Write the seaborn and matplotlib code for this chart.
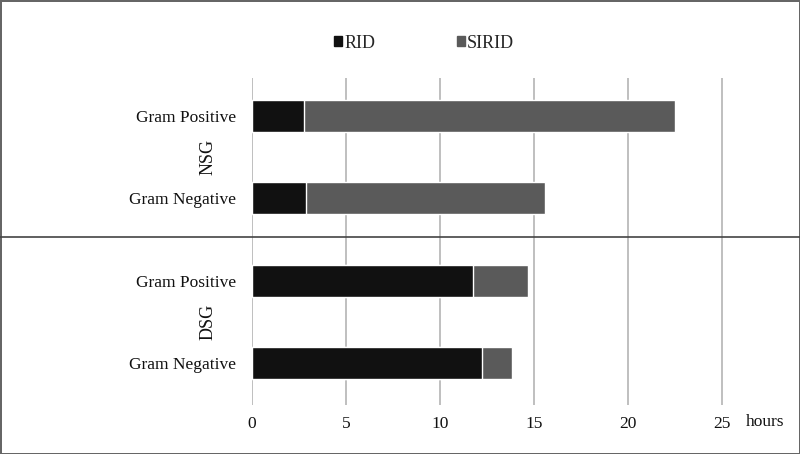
import matplotlib
matplotlib.use("Agg")
import matplotlib.pyplot as plt
import matplotlib.transforms as mtransforms
from matplotlib.lines import Line2D
from matplotlib.patches import Patch
import seaborn as sns
import pandas as pd

# data (hours)
groups = ["NSG", "NSG", "DSG", "DSG"]
strains = ["Gram Positive", "Gram Negative", "Gram Positive", "Gram Negative"]
rid = [2.80, 2.90, 11.78, 12.24]
sirid = [19.68, 12.69, 2.91, 1.61]
xticks = [0, 5, 10, 15, 20, 25]

RID_COLOR = "#111111"
SIRID_COLOR = "#5a5a5a"

df = pd.DataFrame({
    "row": [f"{g} {s}" for g, s in zip(groups, strains)],
    "group": groups,
    "strain": strains,
    "RID": rid,
    "SIRID": sirid,
})
df["total"] = df["RID"] + df["SIRID"]

sns.set_theme(style="white")
plt.rcParams["font.family"] = ["Liberation Serif", "DejaVu Serif"]

fig = plt.figure(figsize=(8, 4.54), dpi=100)
ax = fig.add_axes([0.3146, 0.1079, 0.6, 0.7203])

order = list(df["row"])
sns.barplot(data=df, x="total", y="row", order=order, orient="h",
            color=SIRID_COLOR, width=0.39, ax=ax, saturation=1)
sns.barplot(data=df, x="RID", y="row", order=order, orient="h",
            color=RID_COLOR, width=0.39, ax=ax, saturation=1)

ax.set_xlim(0, 25.5)
ax.set_ylim(3.51, -0.46)
ax.set_xticks(xticks)
ax.set_xticklabels([str(t) for t in xticks])
ax.set_yticks(range(len(order)))
ax.set_yticklabels(strains)
ax.set_xlabel("")
ax.set_ylabel("")
ax.tick_params(axis="x", length=0, pad=8, labelsize=12.5, colors="#111111")
ax.tick_params(axis="y", length=0, pad=11, labelsize=12.5, colors="#111111")
for sp in ax.spines.values():
    sp.set_visible(False)
ax.grid(axis="x", color="#b4b4b4", linewidth=1.2)
ax.set_axisbelow(True)

# group labels and separator
trans = mtransforms.blended_transform_factory(fig.transFigure, ax.transData)
ax.text(0.26, 0.5, "NSG", transform=trans, rotation=90, ha="center",
        va="center", fontsize=13, color="#111111")
ax.text(0.26, 2.5, "DSG", transform=trans, rotation=90, ha="center",
        va="center", fontsize=13, color="#111111")
fig.add_artist(Line2D([0, 1], [1.47, 1.47], transform=trans,
                      color="#444444", linewidth=1.2))

fig.text(0.956, 0.0705, "hours", ha="center", va="center", fontsize=12.5,
         color="#111111")

handles = [Patch(color=RID_COLOR, label="RID"),
           Patch(color=SIRID_COLOR, label="SIRID")]
fig.legend(handles=handles, loc="center", bbox_to_anchor=(0.53, 0.905),
           ncol=2, frameon=False, fontsize=13, handlelength=0.45,
           handleheight=0.45, handletextpad=0.12, columnspacing=4.5)

fig.patch.set_edgecolor("#666666")
fig.patch.set_linewidth(2)

fig.savefig("out.png", dpi=100)
